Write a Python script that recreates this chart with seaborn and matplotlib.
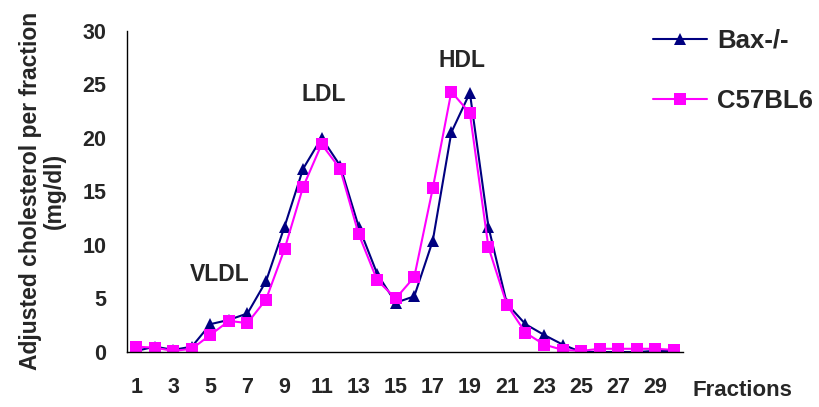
import matplotlib
matplotlib.use("Agg")
import matplotlib.pyplot as plt
import seaborn as sns
import pandas as pd
import numpy as np
from matplotlib.lines import Line2D

fractions = list(range(1, 31))
bax = [0.1, 0.5, 0.2, 0.5, 2.6, 3.0, 3.6, 6.6, 11.7, 17.1, 20.0, 17.4, 11.7, 7.3, 4.6,
       5.2, 10.4, 20.5, 24.2, 11.7, 4.5, 2.6, 1.6, 0.7, 0.0, 0.0, 0.0, 0.0, 0.1, 0.1]
c57 = [0.5, 0.4, 0.1, 0.3, 1.6, 2.9, 2.7, 4.9, 9.6, 15.4, 19.4, 17.1, 11.0, 6.7, 5.0,
       7.0, 15.3, 24.3, 22.3, 9.8, 4.4, 1.8, 0.7, 0.2, 0.1, 0.3, 0.3, 0.3, 0.3, 0.2]
series_names = ["Bax-/-", "C57BL6"]
yticks = [0, 5, 10, 15, 20, 25, 30]
xtick_labels = [str(f) for f in range(1, 30, 2)]
annotations = [("VLDL", 5.52, 7.2), ("LDL", 11.1, 24.0), ("HDL", 18.55, 27.2)]

df = pd.DataFrame({
    "Fraction": fractions * 2,
    "Value": bax + c57,
    "Series": [series_names[0]] * 30 + [series_names[1]] * 30,
})

sns.set_style("white")
plt.rcParams['font.family'] = ['Liberation Sans', 'DejaVu Sans']
plt.rcParams['font.weight'] = 'bold'

fig = plt.figure(figsize=(8.19, 4.07), dpi=100)
ax = fig.add_axes([127/819, 1 - 352/407, (683-127)/819, (352-30.7)/407])

palette = {series_names[0]: "#000080", series_names[1]: "#FF00FF"}
markers = {series_names[0]: "^", series_names[1]: "s"}
sns.lineplot(data=df, x="Fraction", y="Value", hue="Series", style="Series",
             palette=palette, markers=markers, dashes=False, ax=ax,
             linewidth=1.5, markersize=9, markeredgewidth=0, legend=False)

ax.set_xlim(0.5, 30.5)
ax.set_ylim(0, 30)
ax.set_yticks(yticks)
ax.set_yticklabels([str(v) for v in yticks], fontsize=15.5, fontweight='bold')
ax.set_xticks(list(range(1, 30, 2)))
ax.set_xticklabels(xtick_labels, fontsize=15.5, fontweight='bold')
ax.set_xticks(np.arange(0.5, 31, 1), minor=True)
ax.tick_params(axis='x', which='major', length=0, pad=18)
ax.tick_params(axis='x', which='minor', length=6, width=1, direction='out', color='black')
ax.tick_params(axis='y', length=7, width=1, direction='out', color='black', pad=8)
ax.set_xlabel("")
ax.set_ylabel("Adjusted cholesterol per fraction\n(mg/dl)", fontsize=16.5, fontweight='bold',
              labelpad=12, linespacing=1.05)

for s in ["top", "right"]:
    ax.spines[s].set_visible(False)
for s in ["left", "bottom"]:
    ax.spines[s].set_color("black")
    ax.spines[s].set_linewidth(1)

for txt, x, y in annotations:
    ax.text(x, y, txt, fontsize=16.5, fontweight='bold', ha='center', va='center')

fig.text(692/819, 1 - 390/407, "Fractions", fontsize=16, fontweight='bold', ha='left', va='center')

handles = [Line2D([0], [0], color=palette[n], marker=markers[n], markersize=9,
                  markeredgewidth=0, linewidth=1.5) for n in series_names]
fig.legend(handles, series_names, loc='upper left', bbox_to_anchor=(653/819, 1 - 29/407),
           frameon=False, prop={'weight': 'bold', 'size': 18.5}, handlelength=2.1,
           labelspacing=1.42, handletextpad=0.39, borderaxespad=0, borderpad=0)

fig.savefig("out.png", dpi=100)
